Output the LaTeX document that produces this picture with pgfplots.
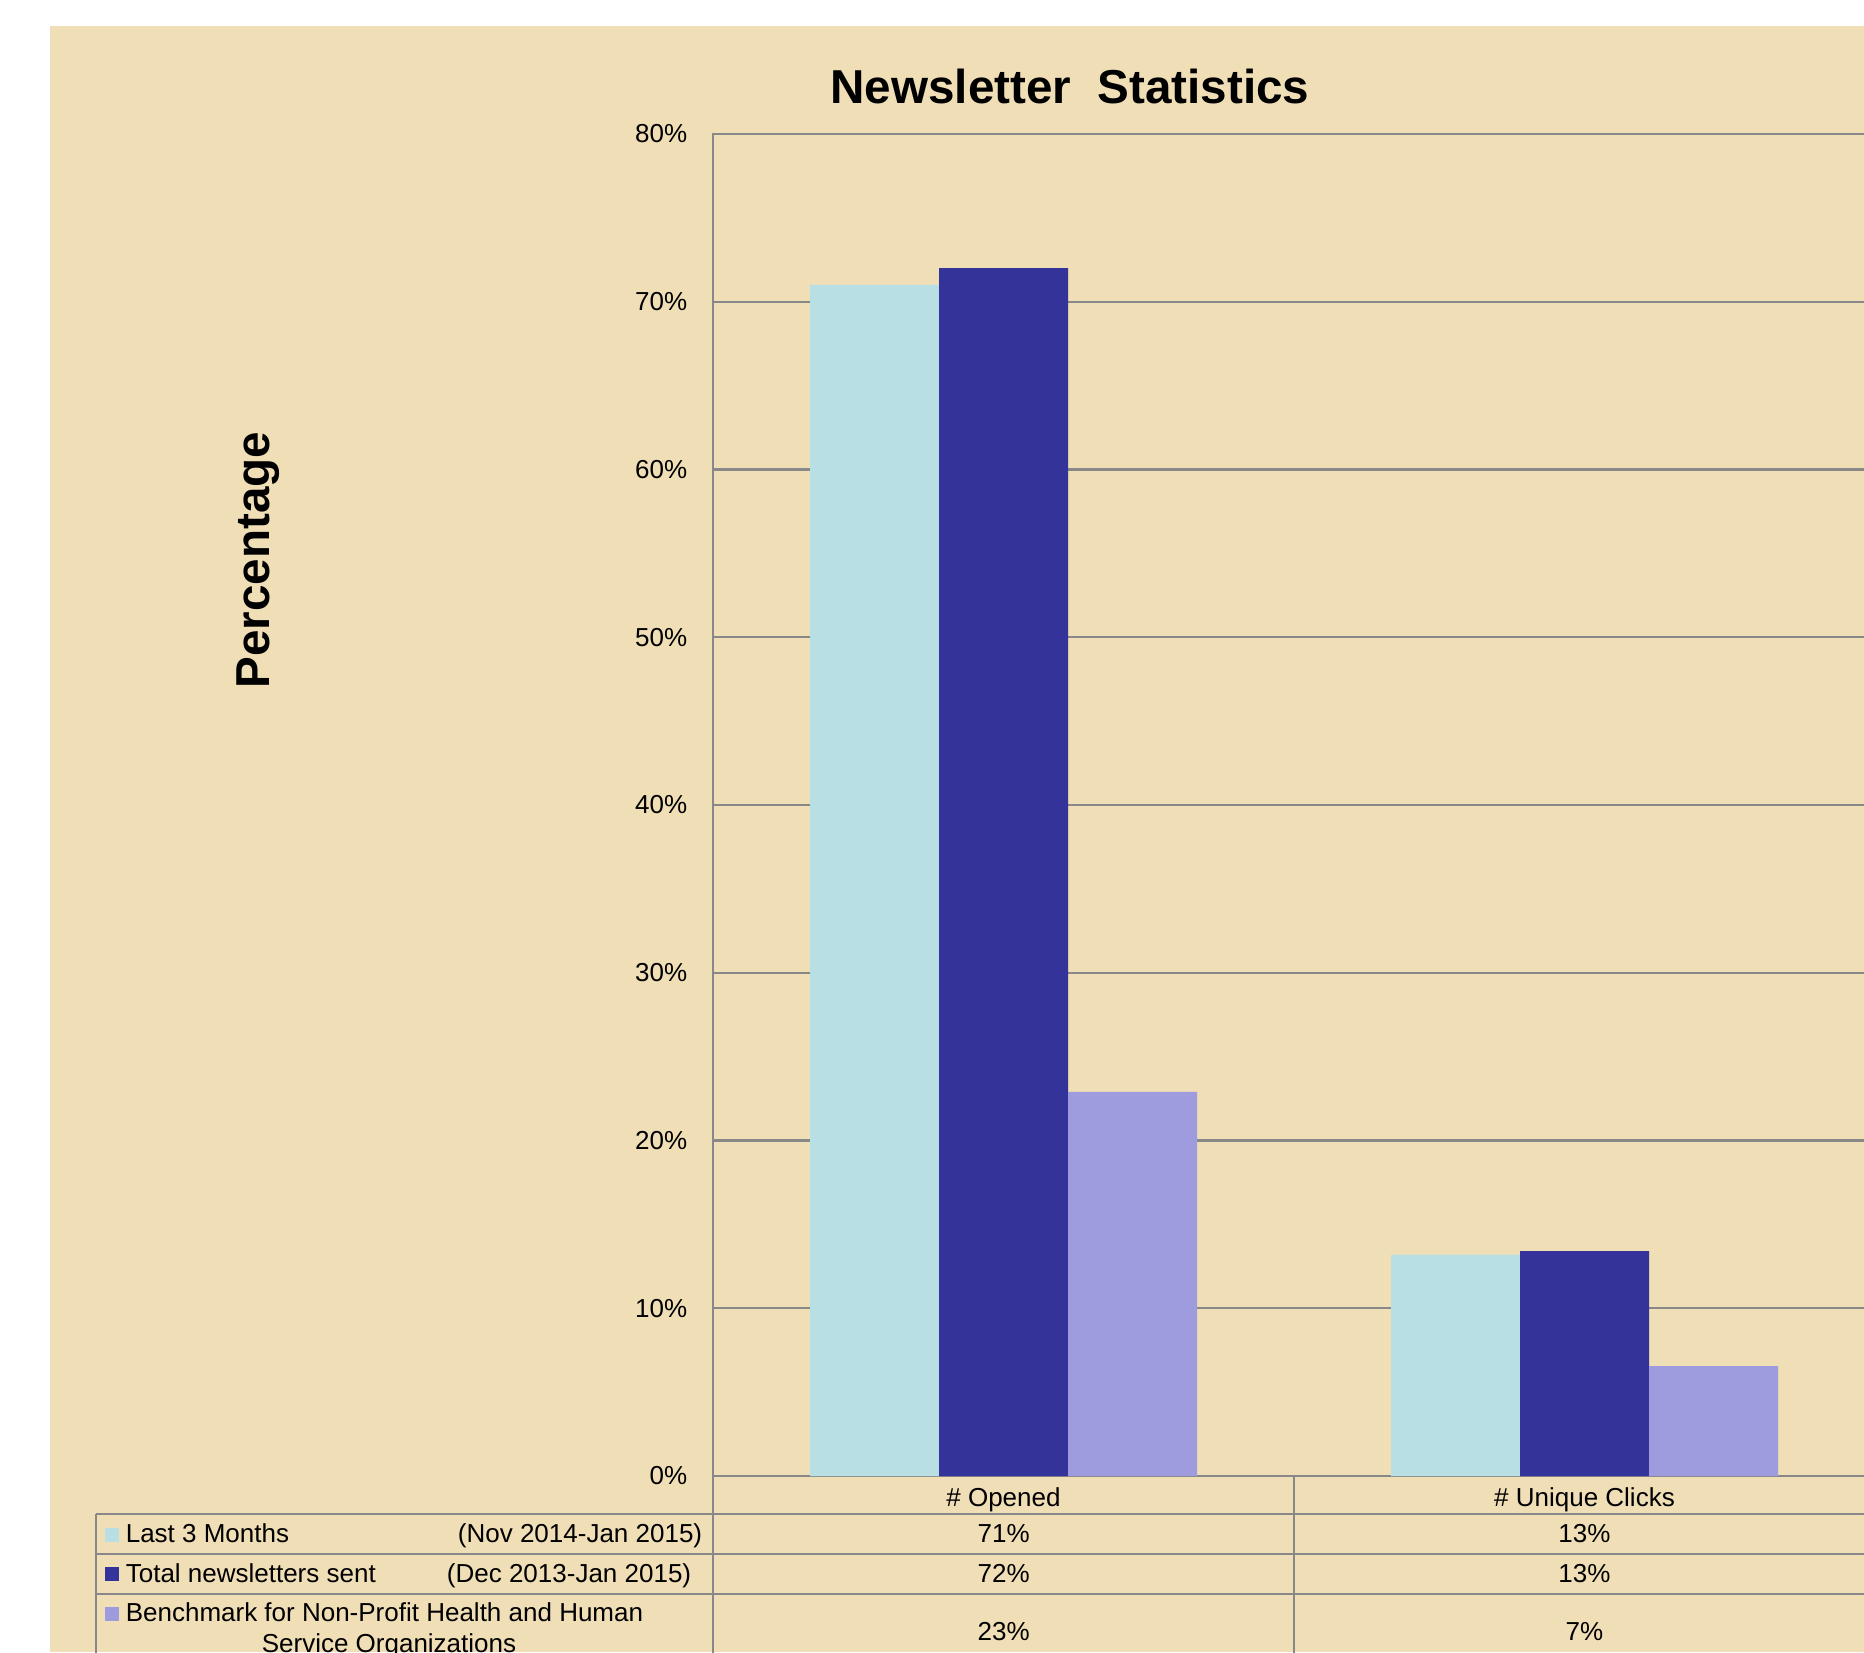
\documentclass[border=0pt]{standalone}
\usepackage{fontspec}
\setmainfont{Liberation Sans}
\usepackage{pgfplots}
\pgfplotsset{compat=1.18}
\definecolor{parch}{RGB}{240,222,182}
\definecolor{lblue}{RGB}{184,224,228}
\definecolor{dblue}{RGB}{51,51,153}
\definecolor{lpurp}{RGB}{158,156,222}
\definecolor{gridg}{RGB}{136,136,136}
\newcommand{\sm}{\fontsize{6.5}{7.8}\selectfont}
\begin{document}
\begin{tikzpicture}
\useasboundingbox (0,0) rectangle (466pt,413pt);
\clip (0,0) rectangle (466pt,413pt);
\fill[white] (0,0) rectangle (466pt,413pt);
\fill[parch] (12.5pt,0) rectangle (466pt,406.5pt);
\begin{axis}[
  at={(178.25pt,44pt)}, anchor=south west,
  scale only axis, width=290.5pt, height=335.5pt,
  xmin=-0.5, xmax=1.5, ymin=0, ymax=80,
  ybar=0pt, bar width=32.25pt,
  xtick={0,1}, xticklabels={\# Opened, \# Unique Clicks},
  ytick={0,10,...,80},
  yticklabel={\pgfmathprintnumber{\tick}\%},
  ymajorgrids, grid style={gridg, line width=0.6pt},
  axis line style={gridg, line width=0.6pt},
  major tick length=0pt,
  tick label style={font=\sm},
  /pgf/number format/assume math mode=true,
  yticklabel style={anchor=east, inner sep=0pt, xshift=-6.25pt},
  xticklabel style={anchor=base, inner sep=0pt, yshift=-7.5pt},
  clip=false,
]
\addplot[fill=lblue, draw=none] coordinates {(0,71.0) (1,13.2)};
\addplot[fill=dblue, draw=none] coordinates {(0,72.0) (1,13.4)};
\addplot[fill=lpurp, draw=none] coordinates {(0,22.9) (1,6.55)};
\end{axis}
% title and y label
\node[font=\fontsize{11.9}{14}\selectfont\bfseries] at (267.5pt,391.5pt) {Newsletter~~Statistics};
\node[font=\fontsize{11.9}{14}\selectfont\bfseries, rotate=90] at (64.5pt,273pt) {Percentage};
% data table lines
\begin{scope}[gridg, line width=0.6pt]
\draw (24pt,34.5pt) -- (470pt,34.5pt);
\draw (24pt,24.5pt) -- (470pt,24.5pt);
\draw (24pt,14.5pt) -- (470pt,14.5pt);
\draw (24pt,34.5pt) -- (24pt,-2pt);
\draw (178.25pt,44pt) -- (178.25pt,-2pt);
\draw (323.5pt,44pt) -- (323.5pt,-2pt);
\end{scope}
% legend swatches
\fill[lblue] (26.25pt,27.5pt) rectangle (29.75pt,31pt);
\fill[dblue] (26.25pt,17.75pt) rectangle (29.75pt,21.25pt);
\fill[lpurp] (26.25pt,7.75pt) rectangle (29.75pt,11.25pt);
% row texts
\node[font=\sm, anchor=base west, inner sep=0pt] at (31.25pt,27.5pt) {Last 3 Months};
\node[font=\sm, anchor=base east, inner sep=0pt] at (175.75pt,27.5pt) {(Nov 2014-Jan 2015)};
\node[font=\sm, anchor=base west, inner sep=0pt] at (31.25pt,17.3pt) {Total newsletters sent};
\node[font=\sm, anchor=base east, inner sep=0pt] at (173pt,17.3pt) {(Dec 2013-Jan 2015)};
\node[font=\sm, anchor=base west, inner sep=0pt] at (31.25pt,7.6pt) {Benchmark for Non-Profit Health and Human};
\node[font=\sm, anchor=base, inner sep=0pt] at (97.25pt,0pt) {Service Organizations};
% values
\node[font=\sm, anchor=base, inner sep=0pt] at (250.9pt,27.5pt) {71\%};
\node[font=\sm, anchor=base, inner sep=0pt] at (396.1pt,27.5pt) {13\%};
\node[font=\sm, anchor=base, inner sep=0pt] at (250.9pt,17.3pt) {72\%};
\node[font=\sm, anchor=base, inner sep=0pt] at (396.1pt,17.3pt) {13\%};
\node[font=\sm, anchor=base, inner sep=0pt] at (250.9pt,3pt) {23\%};
\node[font=\sm, anchor=base, inner sep=0pt] at (396.1pt,3pt) {7\%};
\end{tikzpicture}
\end{document}
